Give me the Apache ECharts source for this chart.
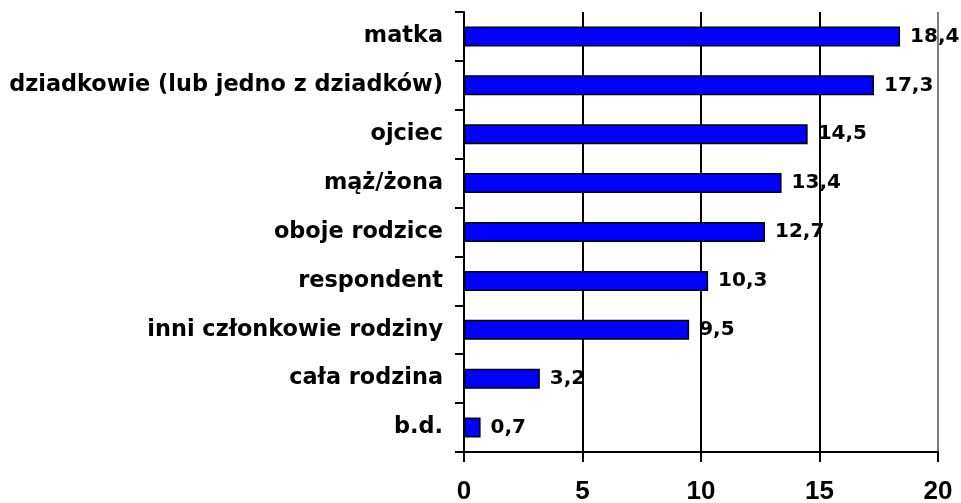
<!DOCTYPE html>
<html>
<head>
<meta charset="utf-8">
<script src="https://cdn.jsdelivr.net/npm/echarts@6/dist/echarts.min.js"></script>
<style>
  html, body { margin: 0; padding: 0; background: #fff; }
  #chart { width: 961px; height: 503px; }
</style>
</head>
<body>
<div id="chart"></div>
<script>
const categories = ['matka', 'dziadkowie (lub jedno z dziadków)', 'ojciec', 'mąż/żona', 'oboje rodzice', 'respondent', 'inni członkowie rodziny', 'cała rodzina', 'b.d.']
const values = [18.4, 17.3, 14.5, 13.4, 12.7, 10.3, 9.5, 3.2, 0.7]

const arial = 'Liberation Sans, Arial, sans-serif'
const wide = 'DejaVu Sans, sans-serif'
const chart = echarts.init(document.getElementById('chart'))

chart.setOption({
  animation: false,
  grid: { left: 464, right: 23, top: 12, bottom: 51, outerBoundsMode: 'none' },
  xAxis: {
    type: 'value',
    min: 0,
    max: 20,
    interval: 5,
    axisLine: { show: true, lineStyle: { color: '#000', width: 2 } },
    axisTick: { show: true, length: 10, lineStyle: { color: '#000', width: 2 } },
    axisLabel: {
      margin: 27,
      color: '#000',
      fontFamily: arial,
      fontWeight: 'bold',
      fontSize: 26
    },
    splitLine: {
      show: true,
      lineStyle: { color: ['#000', '#000', '#000', '#000', '#808080'], width: 2 }
    }
  },
  yAxis: {
    type: 'category',
    inverse: true,
    data: categories,
    axisLine: { show: true, lineStyle: { color: '#000', width: 2 } },
    axisTick: { show: true, length: 9, lineStyle: { color: '#000', width: 2 } },
    axisLabel: {
      margin: 21,
      color: '#000',
      fontFamily: wide,
      fontWeight: 'bold',
      fontSize: 22.4
    }
  },
  series: [
    {
      type: 'bar',
      data: values,
      barWidth: 20,
      itemStyle: { color: '#0000FF', borderColor: '#000', borderWidth: 1.5 },
      label: {
        show: true,
        position: 'right',
        distance: 10,
        color: '#000',
        fontFamily: wide,
        fontWeight: 'bold',
        fontSize: 20,
        formatter: (p) => String(p.value).replace('.', ',')
      }
    }
  ]
})
</script>
</body>
</html>
